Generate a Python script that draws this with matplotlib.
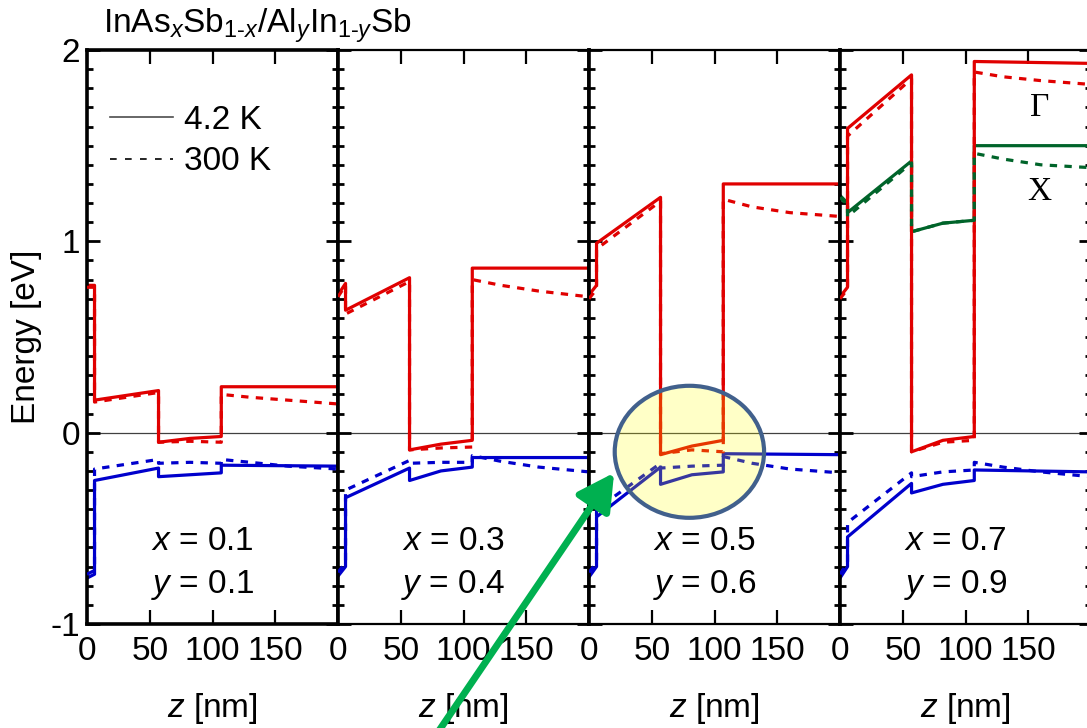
import matplotlib.pyplot as plt
from matplotlib.patches import Ellipse
from matplotlib.lines import Line2D

plt.rcParams['font.family'] = ['Liberation Sans', 'DejaVu Sans']
plt.rcParams['mathtext.fontset'] = 'custom'
plt.rcParams['mathtext.rm'] = 'Liberation Sans'
plt.rcParams['mathtext.it'] = 'Liberation Sans:italic'
plt.rcParams['axes.unicode_minus'] = False

# alloy compositions of the four panels
x_comp = ['0.1', '0.3', '0.5', '0.7']
y_comp = ['0.1', '0.4', '0.6', '0.9']

# depth grids (nm): 4.2 K curves and 300 K curves
z_4k = [0, 6, 6, 57, 57, 82, 107, 107, 200]
z_300k = [0, 6, 6, 57, 57, 82, 107, 107, 130, 160, 200]

# conduction band (Gamma), eV
cb_4k = [
    [0.77, 0.77, 0.17, 0.22, -0.05, -0.03, -0.02, 0.24, 0.24],
    [0.72, 0.78, 0.64, 0.81, -0.09, -0.06, -0.04, 0.86, 0.86],
    [0.72, 0.77, 0.99, 1.23, -0.115, -0.07, -0.04, 1.30, 1.30],
    [0.71, 0.76, 1.59, 1.87, -0.10, -0.04, -0.02, 1.94, 1.93],
]
cb_300k = [
    [0.76, 0.76, 0.16, 0.21, -0.05, -0.045, -0.05, 0.20, 0.185, 0.17, 0.15],
    [0.71, 0.77, 0.62, 0.79, -0.09, -0.08, -0.075, 0.80, 0.77, 0.74, 0.71],
    [0.70, 0.75, 0.96, 1.21, -0.11, -0.09, -0.10, 1.22, 1.18, 1.15, 1.13],
    [0.70, 0.75, 1.55, 1.85, -0.10, -0.05, -0.04, 1.885, 1.86, 1.84, 1.82],
]
# valence band, eV
vb_4k = [
    [-0.76, -0.74, -0.25, -0.185, -0.23, -0.22, -0.21, -0.17, -0.175],
    [-0.75, -0.70, -0.34, -0.185, -0.25, -0.20, -0.18, -0.13, -0.13],
    [-0.755, -0.70, -0.44, -0.18, -0.27, -0.22, -0.205, -0.11, -0.115],
    [-0.76, -0.70, -0.545, -0.265, -0.315, -0.27, -0.25, -0.195, -0.205],
]
vb_300k = [
    [-0.74, -0.72, -0.19, -0.14, -0.16, -0.155, -0.16, -0.14, -0.155, -0.175, -0.19],
    [-0.73, -0.68, -0.30, -0.145, -0.16, -0.155, -0.155, -0.12, -0.15, -0.18, -0.205],
    [-0.73, -0.68, -0.40, -0.16, -0.185, -0.175, -0.17, -0.125, -0.16, -0.19, -0.21],
    [-0.74, -0.68, -0.47, -0.21, -0.23, -0.205, -0.195, -0.155, -0.18, -0.205, -0.23],
]
# X valley, last panel only
xb_4k = [1.24, 1.20, 1.15, 1.42, 1.05, 1.095, 1.11, 1.50, 1.50]
xb_300k = [1.23, 1.19, 1.13, 1.41, 1.05, 1.095, 1.11, 1.46, 1.43, 1.40, 1.385]

RED = '#E00000'
BLUE = '#0000CC'
GREEN = '#00642A'
FS = 24
DASH = (2.3, 2.3)

fig = plt.figure(figsize=(10.87, 7.28), dpi=100)
W, H = 1087, 728
left, pw = 87 / W, 251 / W
bottom, ph = (H - 624) / H, 574 / H

axes = []
for i in range(4):
    ax = fig.add_axes([left + i * pw, bottom, pw, ph])
    axes.append(ax)
    ax.set_xlim(0, 200)
    ax.set_ylim(-1, 2)
    ax.axhline(0, color='0.25', lw=0.9, zorder=1)

    if i == 3:
        ax.plot(z_4k, xb_4k, color=GREEN, lw=2.3, zorder=2)
    ax.plot(z_4k, cb_4k[i], color=RED, lw=2.3, zorder=2)
    ax.plot(z_4k, vb_4k[i], color=BLUE, lw=2.3, zorder=2)
    ax.plot(z_300k, cb_300k[i], color=RED, lw=2.3, dashes=DASH, zorder=3)
    ax.plot(z_300k, vb_300k[i], color=BLUE, lw=2.3, dashes=DASH, zorder=3)
    if i == 3:
        ax.plot(z_300k, xb_300k, color=GREEN, lw=2.3, dashes=DASH, zorder=3)

    ax.set_xticks([0, 50, 100, 150])
    ax.set_yticks([-1, 0, 1, 2])
    ax.set_yticks([v / 10 for v in range(-10, 21)], minor=True)
    ax.tick_params(axis='x', which='major', direction='in', top=True,
                   length=10, width=1.6, labelsize=FS, pad=9)
    ax.tick_params(axis='y', which='major', direction='in', right=True,
                   length=9, width=2, labelsize=FS, pad=5)
    ax.tick_params(axis='y', which='minor', direction='in', right=True,
                   length=4, width=2)
    ax.tick_params(axis='x', which='minor', bottom=False, top=False)
    if i > 0:
        ax.tick_params(axis='y', labelleft=False)
    for side in ['left', 'right']:
        ax.spines[side].set_linewidth(2.6)
    for side in ['top', 'bottom']:
        ax.spines[side].set_linewidth(2.6 if i == 0 else 1.6)

    ax.set_xlabel('$z$ [nm]', fontsize=FS, labelpad=17)
    ax.text(0.46, 0.143, '$x$ = ' + x_comp[i], transform=ax.transAxes,
            fontsize=FS, ha='center', va='center')
    ax.text(0.46, 0.068, '$y$ = ' + y_comp[i], transform=ax.transAxes,
            fontsize=FS, ha='center', va='center')

ax1, ax3, ax4 = axes[0], axes[2], axes[3]
ax1.set_ylabel('Energy [eV]', fontsize=FS)
ax1.yaxis.set_label_coords(-0.18, 0.5)
ax1.text(0.065, 1.03, 'InAs$_{x}$Sb$_{\\mathit{1\u2010x}}$/Al$_{y}$In$_{\\mathit{1\u2010y}}$Sb',
         transform=ax1.transAxes, fontsize=FS, ha='left', va='baseline')

handles = [Line2D([], [], color='0.3', lw=1.2),
           Line2D([], [], color='k', lw=1.2, dashes=(4, 5))]
ax1.legend(handles, ['4.2 K', '300 K'], loc='upper left', bbox_to_anchor=(0.09, 0.905),
           frameon=False, fontsize=FS, handlelength=1.9, handletextpad=0.32,
           labelspacing=0.32, borderpad=0, borderaxespad=0)

ax4.text(159, 1.70, '\u0393', fontsize=FS, family='Liberation Serif', ha='center', va='center')
ax4.text(159, 1.26, 'X', fontsize=FS, family='Liberation Serif', ha='center', va='center')

# highlight of the well region in panel 3
ax3.add_patch(Ellipse((80, -0.10), 119, 0.69, facecolor='#FFFF00', alpha=0.22,
                      edgecolor='none', zorder=5))
ax3.add_patch(Ellipse((80, -0.10), 119, 0.69, facecolor='none', edgecolor='#41608C',
                      lw=3, zorder=6))
ann = ax3.annotate('', xy=(20, -0.21), xytext=(-126, -1.62), annotation_clip=False,
                   arrowprops=dict(arrowstyle='-|>,head_length=0.55,head_width=0.3',
                                   color='#00B050', lw=5, mutation_scale=40,
                                   shrinkA=0, shrinkB=0),
                   zorder=7)
ann.arrow_patch.set_clip_on(False)

fig.savefig('out.png', dpi=100)
